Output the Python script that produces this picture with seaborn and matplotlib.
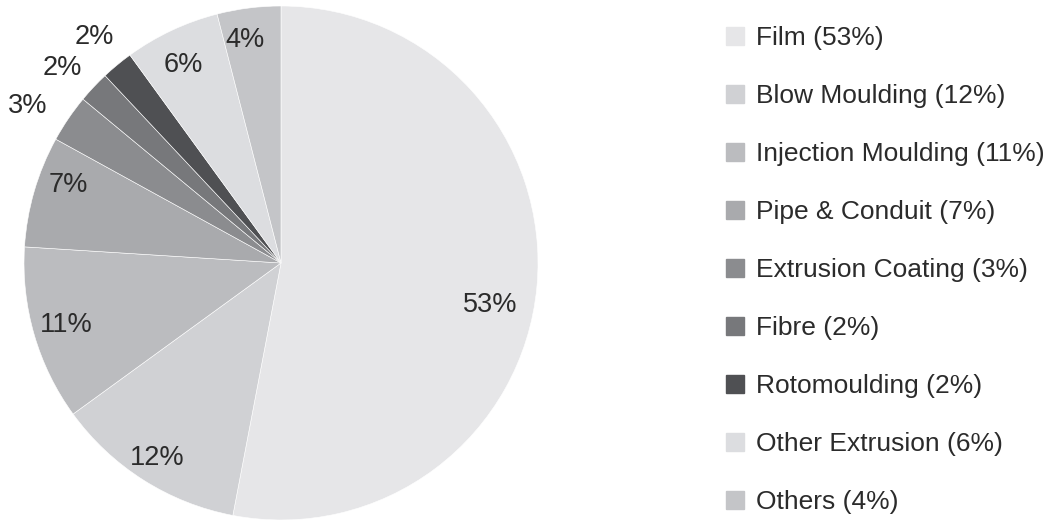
import numpy as np
import matplotlib
matplotlib.use("Agg")
import matplotlib.pyplot as plt
from matplotlib.lines import Line2D
import seaborn as sns

categories = ["Film", "Blow Moulding", "Injection Moulding", "Pipe & Conduit",
              "Extrusion Coating", "Fibre", "Rotomoulding", "Other Extrusion", "Others"]
shares = [53, 12, 11, 7, 3, 2, 2, 6, 4]
colors = ["#e6e6e8", "#d0d1d4", "#bbbcbf", "#a9aaad", "#8b8c8f",
          "#77787b", "#4f5053", "#dcdde0", "#c4c5c8"]
# label radius (in pie radii) and angular nudge; small slices sit outside
label_dist = [0.83, 0.9, 0.87, 0.88, 1.16, 1.14, 1.14, 0.86, 0.88]
label_shift = [-6, 0, 0, -4, 2.5, 1.5, 0, 1, 2]

sns.set_theme(style="white")
plt.rcParams["font.family"] = ["Liberation Sans", "DejaVu Sans"]
text_col = "#2b2b2b"

fig = plt.figure(figsize=(10.63, 5.2), dpi=100)
ax = fig.add_axes([24 / 1063, 0.0, 514 / 1063, 514 / 520])
pal = sns.color_palette(colors)

wedges, _ = ax.pie(shares, colors=pal, startangle=90, counterclock=False,
                   radius=1, wedgeprops=dict(edgecolor="white", linewidth=0.4))
ax.set_xlim(-1, 1)
ax.set_ylim(-1, 1)
ax.set_aspect("equal")
ax.axis("off")

for w, s, d, sh in zip(wedges, shares, label_dist, label_shift):
    ang = np.deg2rad((w.theta1 + w.theta2) / 2 + sh)
    ax.text(d * np.cos(ang), d * np.sin(ang), f"{s}%", ha="center", va="center",
            fontsize=19.5, color=text_col)

handles = [Line2D([0], [0], marker="s", linestyle="none", markersize=13,
                  markerfacecolor=c, markeredgecolor=c) for c in colors]
labels = [f"{c} ({s}%)" for c, s in zip(categories, shares)]
leg = fig.legend(handles, labels, loc="upper left", bbox_to_anchor=(722 / 1063, 1 - 26 / 520),
                 frameon=False, fontsize=19, labelspacing=1.29, handlelength=1.0,
                 handletextpad=0.3, borderaxespad=0, borderpad=0)
for t in leg.get_texts():
    t.set_color(text_col)

fig.savefig("out.png", dpi=100)
